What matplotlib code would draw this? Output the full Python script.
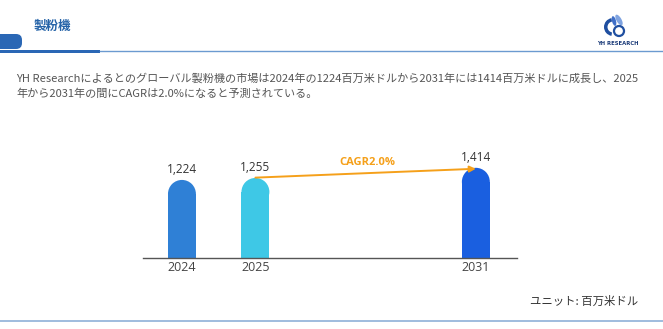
import matplotlib
matplotlib.use("Agg")
import matplotlib.pyplot as plt
from matplotlib.patches import Rectangle, Ellipse, FancyBboxPatch, Wedge, Circle

plt.rcParams["font.family"] = ["Noto Sans CJK JP", "DejaVu Sans"]

# --- data ---
years = ["2024", "2025", "2031"]
values = [1224, 1255, 1414]
value_labels = ["1,224", "1,255", "1,414"]
cagr_label = "CAGR2.0%"
title = "製粉機"
summary = ["YH Researchによるとのグローバル製粉機の市場は2024年の1224百万米ドルから2031年には1414百万米ドルに成長し、2025",
           "年から2031年の間にCAGRは2.0%になると予測されている。"]
unit_label = "ユニット: 百万米ドル"

# layout
xpos = [0, 1, 4]
bar_colors = ["#2f80d6", "#3ec8e6", "#1a5fe0"]
W, H = 663, 329

fig = plt.figure(figsize=(W / 100, H / 100), dpi=100)
fig.patch.set_facecolor("white")

# overlay axes in pixel coordinates for the page decorations
deco = fig.add_axes([0, 0, 1, 1])
deco.set_xlim(0, W)
deco.set_ylim(H, 0)
deco.axis("off")

# header
deco.text(34, 26, title, fontsize=9, fontweight="bold", color="#2563a8",
          va="center", ha="left")
deco.add_patch(FancyBboxPatch((-10, 34), 32, 15, boxstyle="round,pad=0,rounding_size=6",
                              facecolor="#2a67b5", edgecolor="none"))
deco.add_patch(Rectangle((0, 49.5), 100, 3.2, facecolor="#2a67b5", edgecolor="none"))
deco.plot([100, W], [51.2, 51.2], color="#6b9ad0", lw=1.0)

# logo
deco.add_patch(Wedge((613, 27), 9, 100, 260, width=3.5, facecolor="#1f4fa0"))
deco.add_patch(Ellipse((619, 20), 5, 12, angle=-30, facecolor="#7fa3e0"))
deco.add_patch(Ellipse((614, 21), 4, 10, angle=-15, facecolor="#3f6fc8"))
deco.add_patch(Circle((619, 31), 5, facecolor="white", edgecolor="#1f4fa0", lw=1.6))
deco.text(618, 43.5, "YH RESEARCH", fontsize=3.8, fontweight="bold", color="#1a3a78",
          ha="center", va="center", family="DejaVu Sans")

# summary text
deco.text(16, 78, summary[0], fontsize=8.0, color="#555555", va="center", ha="left")
deco.text(16, 94, summary[1], fontsize=8.0, color="#555555", va="center", ha="left")

# unit + bottom line
deco.text(638, 301, unit_label, fontsize=8.2, color="#333333", va="center", ha="right")
deco.plot([0, W], [320.5, 320.5], color="#8fb0d8", lw=1.2)

# --- chart ---
left, right, bottom, top = 143, 517, 258, 140
ax = fig.add_axes([left / W, (H - bottom) / H, (right - left) / W, (bottom - top) / H])
ax.set_xlim(-0.53, 4.56)
ax.set_ylim(0, 1850)
for s in ["top", "right", "left"]:
    ax.spines[s].set_visible(False)
ax.spines["bottom"].set_color("#555555")
ax.spines["bottom"].set_linewidth(1.0)
ax.set_yticks([])
ax.set_xticks(xpos)
ax.set_xticklabels(years, fontsize=9, color="#444444", family="Open Sans")
ax.tick_params(axis="x", length=0, pad=2.5)
ax.patch.set_alpha(0)

bw = 0.38
# radius of rounded top in data units (half bar width in pixels)
px_per_x = (right - left) / (4.56 + 0.53)
px_per_y = (bottom - top) / 1850
r_px = bw * px_per_x / 2
r_y = r_px / px_per_y
for x, v, c, lab in zip(xpos, values, bar_colors, value_labels):
    ax.bar(x, v - r_y, width=bw, color=c, linewidth=0)
    ax.add_patch(Ellipse((x, v - r_y), bw, 2 * r_y, facecolor=c, edgecolor="none"))
    ax.annotate(lab, (x, v), xytext=(0, 3), textcoords="offset points",
                ha="center", va="bottom", fontsize=8.5, color="#333333", family="Open Sans")

# CAGR arrow
ax.annotate("", xy=(xpos[2], values[2] - 15), xytext=(xpos[1], values[1] + 5),
            arrowprops=dict(arrowstyle="-|>", color="#f5a01a", lw=1.4,
                            mutation_scale=9, shrinkA=0, shrinkB=0))
ax.text(2.52, 1492, cagr_label, fontsize=8, fontweight="bold", color="#f5a01a",
        ha="center", va="center", family="Open Sans")

fig.savefig("out.png", dpi=100, facecolor="white")
